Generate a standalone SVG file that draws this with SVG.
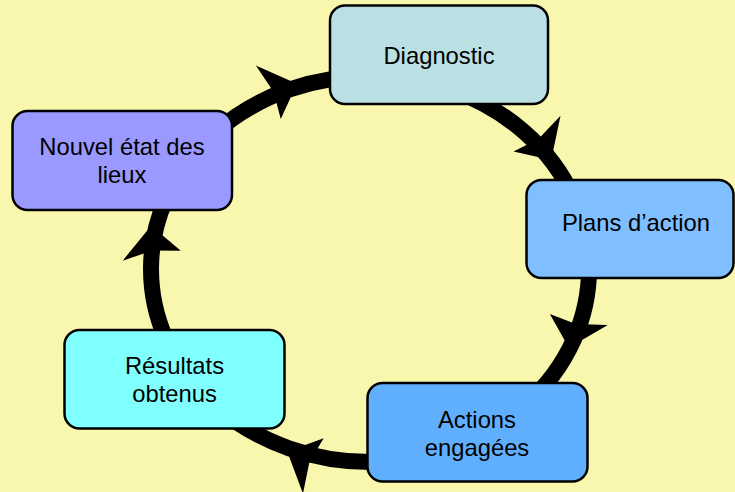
<svg xmlns="http://www.w3.org/2000/svg" width="735" height="492" viewBox="0 0 735 492">
  <defs>
    <style>
      .box { stroke: #000; stroke-width: 2.5; }
      .lbl { font-family: "Liberation Sans", Arial, sans-serif; font-size: 23.8px; fill: #000; text-anchor: middle; }
      .ring { fill: none; stroke: #000; stroke-width: 16; }
    </style>
    <path id="head" d="M0,-29.5 L29.5,4.5 L0,29.5 L5,2 Z" fill="#000"/>
  </defs>
  <rect width="735" height="492" fill="#F9F7AD"/>
  <g id="connectors">
    <ellipse class="ring" cx="370" cy="269" rx="219" ry="193"/>
    <use href="#head" transform="translate(268.3,92.2) rotate(-25)"/>
    <use href="#head" transform="translate(537,133.7) rotate(52.8)"/>
    <use href="#head" transform="translate(578.8,319.5) rotate(100.8)"/>
    <use href="#head" transform="translate(313.3,466) rotate(200.5)"/>
    <use href="#head" transform="translate(151.7,255.7) rotate(-99.7)"/>
  </g>
  <g id="diagnostic">
    <rect class="box" x="330" y="5.5" width="218" height="98.5" rx="15" fill="#BBE0E3"/>
    <text class="lbl" x="439" y="64">Diagnostic</text>
  </g>
  <g id="plans">
    <rect class="box" x="526.5" y="180" width="207" height="98" rx="15" fill="#80BFFF"/>
    <text class="lbl" x="636" y="231">Plans d’action</text>
  </g>
  <g id="actions">
    <rect class="box" x="367.5" y="383" width="220" height="98.5" rx="15" fill="#60AFFF"/>
    <text class="lbl" x="477" y="427.5">Actions</text>
    <text class="lbl" x="477" y="455.5">engagées</text>
  </g>
  <g id="resultats">
    <rect class="box" x="64.5" y="330" width="220" height="98.5" rx="15" fill="#80FFFF"/>
    <text class="lbl" x="174.5" y="374">Résultats</text>
    <text class="lbl" x="174.5" y="401.5">obtenus</text>
  </g>
  <g id="nouvel">
    <rect class="box" x="12.5" y="111" width="219.5" height="99" rx="15" fill="#9999FF"/>
    <text class="lbl" x="122" y="155">Nouvel état des</text>
    <text class="lbl" x="122" y="183">lieux</text>
  </g>
</svg>
